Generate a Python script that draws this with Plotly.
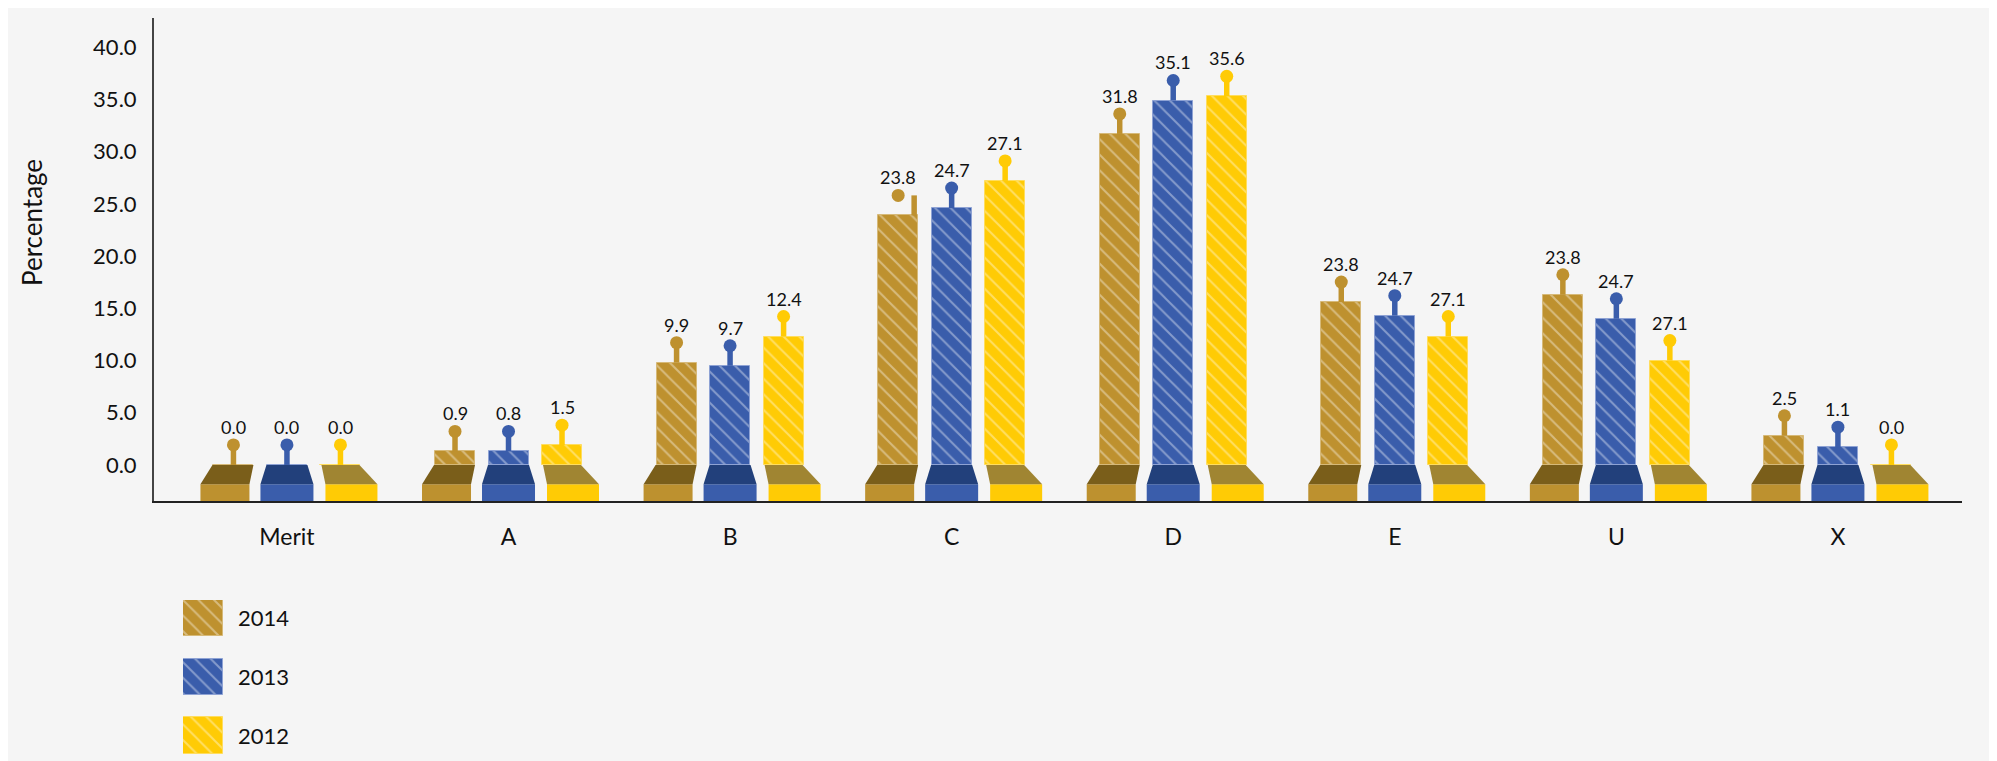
import plotly.graph_objects as go

# ---------------- data ----------------
categories = ["Merit", "A", "B", "C", "D", "E", "U", "X"]
years = ["2014", "2013", "2012"]

values_2014 = [0.0, 1.3, 9.8, 23.9, 31.7, 15.6, 16.3, 2.8]
values_2013 = [0.0, 1.3, 9.5, 24.6, 34.9, 14.3, 14.0, 1.7]
values_2012 = [0.0, 1.9, 12.3, 27.2, 35.3, 12.3, 10.0, 0.0]

labels_2014 = ["0.0", "0.9", "9.9", "23.8", "31.8", "23.8", "23.8", "2.5"]
labels_2013 = ["0.0", "0.8", "9.7", "24.7", "35.1", "24.7", "24.7", "1.1"]
labels_2012 = ["0.0", "1.5", "12.4", "27.1", "35.6", "27.1", "27.1", "0.0"]

y_ticks = [0, 5, 10, 15, 20, 25, 30, 35, 40]

series_values = {"2014": values_2014, "2013": values_2013, "2012": values_2012}
series_labels = {"2014": labels_2014, "2013": labels_2013, "2012": labels_2012}

# ---------------- layout geometry / styles ----------------
W, H = 1989, 753
X_RANGE = [-0.6, 7.56]
Y_RANGE = [-3.45, 42.8]
PLOT_L, PLOT_R = 146, 1954          # px in figure
PLOT_T, PLOT_B = 10, 493
PX_X = (PLOT_R - PLOT_L) / (X_RANGE[1] - X_RANGE[0])
PX_Y = (PLOT_B - PLOT_T) / (Y_RANGE[1] - Y_RANGE[0])

FONT = "Lato"

styles = {
    "2014": dict(color="#BE912F", edge="#D6B978", top="#7A5E1A", base="#BD912F",
                 dx=-53.5, rect=(-86.5, -37.5), topedge=(-74.5, -33.5)),
    "2013": dict(color="#3A5DAB", edge="#8EA2D4", top="#22407B", base="#3A5DAB",
                 dx=0.0, rect=(-26.5, 26.5), topedge=(-20.5, 20.5)),
    "2012": dict(color="#FFCB05", edge="#FFDD5E", top="#A08532", base="#FFCB05",
                 dx=53.5, rect=(38.5, 90.5), topedge=(34.5, 72.5)),
}
BAR_W_PX = 40
STEM_PX = 20
LABEL_PX = 38
PED_MID = -1.85
# stem drawn beside the dot in the original (C, 2014)
stem_shift_px = {("2014", "C"): 16}

fig = go.Figure()

# bars
for yr in years:
    st = styles[yr]
    xs = [i + st["dx"] / PX_X for i in range(len(categories))]
    fig.add_trace(go.Bar(
        x=xs, y=series_values[yr], base=0, width=BAR_W_PX / PX_X,
        marker=dict(color=st["color"], line=dict(color=st["edge"], width=1),
                    pattern=dict(shape="\\", bgcolor=st["color"], fgcolor="white",
                                 fgopacity=0.38, size=11, solidity=0.18)),
        showlegend=False, hoverinfo="skip", name=yr))

# stems (error bars) and dots
dy = STEM_PX / PX_Y
for yr in years:
    st = styles[yr]
    vals = series_values[yr]
    sx = [i + (st["dx"] + stem_shift_px.get((yr, c), 0)) / PX_X
          for i, c in enumerate(categories)]
    fig.add_trace(go.Scatter(
        x=sx, y=[v + dy for v in vals], mode="markers",
        marker=dict(size=1, color="rgba(0,0,0,0)"),
        error_y=dict(type="data", symmetric=False, array=[0] * len(vals),
                     arrayminus=[dy] * len(vals), thickness=5.5, width=0,
                     color=st["color"]),
        showlegend=False, hoverinfo="skip"))
    fig.add_trace(go.Scatter(
        x=[i + st["dx"] / PX_X for i in range(len(vals))],
        y=[v + dy for v in vals], mode="markers",
        marker=dict(size=13, color=st["color"]),
        showlegend=False, hoverinfo="skip"))

# value labels
for yr in years:
    st = styles[yr]
    for i, (v, lab) in enumerate(zip(series_values[yr], series_labels[yr])):
        fig.add_annotation(x=i + st["dx"] / PX_X, y=v, xref="x", yref="y",
                           text=lab, showarrow=False, yshift=LABEL_PX,
                           xanchor="center", yanchor="middle",
                           font=dict(family=FONT, size=18, color="#111"))

# pedestals
shapes = []
for yr in years:
    st = styles[yr]
    r0, r1 = st["rect"]
    t0, t1 = st["topedge"]
    for i in range(len(categories)):
        a0, a1 = i + r0 / PX_X, i + r1 / PX_X
        b0, b1 = i + t0 / PX_X, i + t1 / PX_X
        shapes.append(dict(type="rect", xref="x", yref="y", x0=a0, x1=a1,
                           y0=Y_RANGE[0], y1=PED_MID, fillcolor=st["base"],
                           line=dict(width=0), layer="below"))
        shapes.append(dict(type="path", xref="x", yref="y",
                           path=f"M {a0},{PED_MID} L {a1},{PED_MID} L {b1},0 L {b0},0 Z",
                           fillcolor=st["top"], line=dict(width=0), layer="below"))

# legend swatches in a small separate subplot
leg_rows = {"2014": 2, "2013": 1, "2012": 0}
for yr in years:
    st = styles[yr]
    fig.add_trace(go.Bar(
        x=[1], y=[leg_rows[yr]], base=0, orientation="h", width=0.62,
        xaxis="x2", yaxis="y2",
        marker=dict(color=st["color"], line=dict(color=st["edge"], width=1),
                    pattern=dict(shape="\\", bgcolor=st["color"], fgcolor="white",
                                 fgopacity=0.38, size=11, solidity=0.18)),
        showlegend=False, hoverinfo="skip"))
    fig.add_annotation(x=228 / W, y=leg_rows[yr], xref="paper", yref="y2",
                       text=yr, showarrow=False, xanchor="left", yanchor="middle",
                       font=dict(family=FONT, size=22, color="#111"))

# y-axis title
fig.add_annotation(x=24 / W, y=1 - 215 / H, xref="paper", yref="paper",
                   text="Percentage", textangle=-90, showarrow=False,
                   xanchor="center", yanchor="middle",
                   font=dict(family=FONT, size=26, color="#111"))

fig.update_layout(
    width=W, height=H,
    margin=dict(l=0, r=0, t=0, b=0, pad=0),
    paper_bgcolor="#F5F5F5", plot_bgcolor="#F5F5F5",
    barmode="overlay", bargap=0,
    shapes=shapes,
    font=dict(family=FONT, color="#111"),
    xaxis=dict(domain=[PLOT_L / W, PLOT_R / W], range=X_RANGE,
               tickvals=list(range(len(categories))), ticktext=categories,
               showgrid=False, zeroline=False, showline=True, linecolor="#222",
               linewidth=2, ticks="", ticklabelstandoff=14,
               tickfont=dict(family=FONT, size=23, color="#111"), fixedrange=True),
    yaxis=dict(domain=[1 - PLOT_B / H, 1 - PLOT_T / H], range=Y_RANGE,
               tickvals=y_ticks, tickformat=".1f", showgrid=False, zeroline=False,
               showline=True, linecolor="#444", linewidth=2, ticks="",
               ticklabelstandoff=11,
               tickfont=dict(family=FONT, size=22, color="#111"), fixedrange=True),
    xaxis2=dict(domain=[175 / W, 215 / W], range=[0, 1], visible=False,
                anchor="y2", fixedrange=True),
    yaxis2=dict(domain=[1 - 746 / H, 1 - 592 / H], range=[-0.315, 2.306],
                visible=False, anchor="x2", fixedrange=True),
)

fig.write_html("out.html")
